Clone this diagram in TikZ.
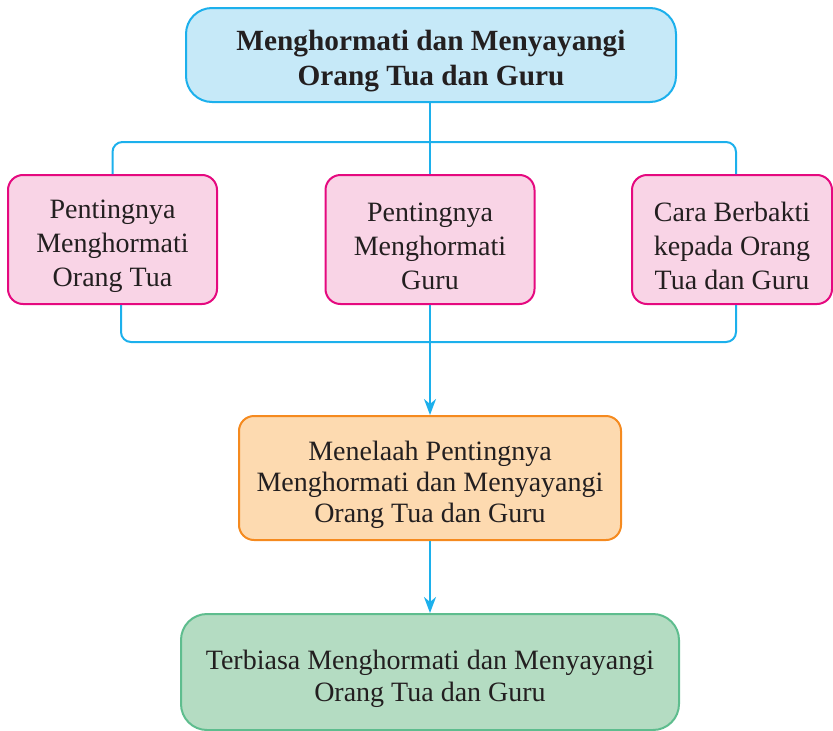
\documentclass[tikz,border=0pt]{standalone}
\usepackage{fontspec}
\setmainfont{Liberation Serif}
\usetikzlibrary{arrows.meta}
\definecolor{cyanline}{HTML}{1CB0EC}
\definecolor{bluefill}{HTML}{C6E9F8}
\definecolor{pinkfill}{HTML}{F9D4E6}
\definecolor{pinkline}{HTML}{E5097F}
\definecolor{orangefill}{HTML}{FDDAB0}
\definecolor{orangeline}{HTML}{F58A1F}
\definecolor{greenfill}{HTML}{B4DCC2}
\definecolor{greenline}{HTML}{5EBD8E}
\definecolor{txt}{HTML}{231F20}
\newcommand{\topstrut}{\rule{0pt}{33pt}}
\tikzset{
  box/.style={draw, line width=2pt, rounded corners=15pt, align=center, text=txt, inner sep=0pt},
  topbox/.style={box, draw=cyanline, fill=bluefill, rounded corners=26pt, minimum width=490pt, minimum height=94pt,
     font=\fontsize{29.3}{35}\selectfont\bfseries},
  pinkbox/.style={box, draw=pinkline, fill=pinkfill, minimum height=129pt,
     font=\fontsize{28}{34}\selectfont},
  orangebox/.style={box, draw=orangeline, fill=orangefill, minimum width=382pt, minimum height=124pt,
     font=\fontsize{28}{31}\selectfont},
  greenbox/.style={box, draw=greenline, fill=greenfill, rounded corners=26pt, minimum width=498pt, minimum height=116pt,
     font=\fontsize{28}{32}\selectfont},
  conn/.style={draw=cyanline, line width=2pt},
  arr/.style={conn, -{Stealth[length=16pt,width=12pt,inset=5pt]}}
}
\begin{document}
\begin{tikzpicture}[x=1pt,y=-1pt]
\useasboundingbox (0,0) rectangle (833,731);
\node[topbox] (top) at (431,55) {\topstrut Menghormati dan Menyayangi\\Orang Tua dan Guru};
\node[pinkbox, minimum width=209pt] (left) at (112.5,239.5) {\topstrut Pentingnya\\Menghormati\\Orang Tua};
\node[pinkbox, minimum width=209pt] (mid) at (430,239.5) {\topstrut Pentingnya\\Menghormati\\Guru};
\node[pinkbox, minimum width=200pt] (right) at (732,239.5) {\topstrut Cara Berbakti\\kepada Orang\\Tua dan Guru};
\node[orangebox] (ora) at (430,478) {\topstrut Menelaah Pentingnya\\Menghormati dan Menyayangi\\Orang Tua dan Guru};
\node[greenbox] (grn) at (430,672) {\topstrut Terbiasa Menghormati dan Menyayangi\\Orang Tua dan Guru};
\coordinate (busT) at (430,142);
\coordinate (busB) at (430,342);
\draw[conn] (top.south -| mid.north) -- (mid.north);
\draw[conn, rounded corners=10pt] (left.north) |- (busT) -| ([xshift=4pt]right.north);
\draw[conn, rounded corners=10pt] ([xshift=8.5pt]left.south) |- (busB) -| ([xshift=4pt]right.south);
\draw[arr] (mid.south) -- (ora.north);
\draw[arr] (ora.south) -- (grn.north);
\end{tikzpicture}
\end{document}
